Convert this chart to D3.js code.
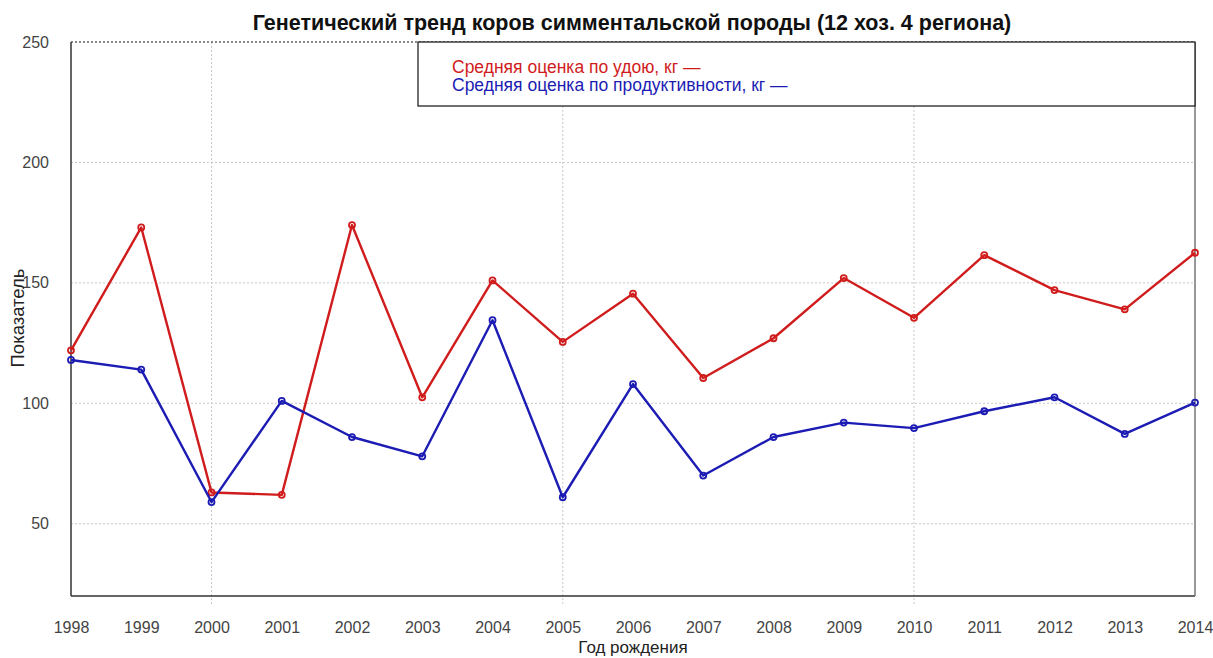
<!DOCTYPE html>
<html><head><meta charset="utf-8">
<script src="https://cdn.jsdelivr.net/npm/d3@7"></script>
<style>body{margin:0;background:#fff;} text{font-family:"Liberation Sans",Arial,sans-serif;}</style>
</head><body><svg id="c" width="1213" height="658"></svg>
<script>
const years = [1998,1999,2000,2001,2002,2003,2004,2005,2006,2007,2008,2009,2010,2011,2012,2013,2014];
const milk = [122,173,63,62,174,102.5,151,125.5,145.5,110.5,127,152,135.5,161.5,147,139,162.5];
const prod = [118,114,59,101,86,78,134.5,61,108,70,86,92,89.7,96.7,102.5,87.3,100.3];
const yTicks = [50,100,150,200,250];
const xGrid = [2000,2005,2010];
const seriesNames = ["Средняя оценка по удою, кг —","Средняя оценка по продуктивности, кг —"];
const colors = ["#d01c1c","#1c1cb4"];

const svg = d3.select("#c");
const L=71,R=1195,T=42,B=596;
const x = d3.scaleLinear().domain([1998,2014]).range([L,R]);
const y = d3.scaleLinear().domain([20,250]).range([B,T]);

// grid
svg.append("g").selectAll("line").data(yTicks).join("line")
 .attr("x1",L).attr("x2",R).attr("y1",d=>y(d)).attr("y2",d=>y(d))
 .attr("stroke","#c8c8c8").attr("stroke-dasharray","2,2");
svg.append("g").selectAll("line").data(xGrid).join("line")
 .attr("x1",d=>x(d)).attr("x2",d=>x(d)).attr("y1",T).attr("y2",B+8)
 .attr("stroke","#c8c8c8").attr("stroke-dasharray","2,2");
// top dotted border
svg.append("line").attr("x1",L).attr("x2",R).attr("y1",T).attr("y2",T).attr("stroke","#333").attr("stroke-dasharray","2,2");
// axes
svg.append("line").attr("x1",L).attr("x2",L).attr("y1",T).attr("y2",B).attr("stroke","#333").attr("stroke-width",1.5);
svg.append("line").attr("x1",L).attr("x2",R).attr("y1",B).attr("y2",B).attr("stroke","#333").attr("stroke-width",1.5);
svg.append("line").attr("x1",R).attr("x2",R).attr("y1",T).attr("y2",B).attr("stroke","#777").attr("stroke-width",1.5);

// tick labels
const yAxis = d3.axisLeft(y).tickValues(yTicks).tickSize(0).tickPadding(0);
const gy = svg.append("g").attr("transform",`translate(${L-22},0)`).call(yAxis);
gy.select(".domain").remove();
gy.selectAll("text").attr("font-size",16).attr("fill","#444").attr("font-family","Liberation Sans, Arial");
const xAxis = d3.axisBottom(x).tickValues(years).tickFormat(d3.format("d")).tickSize(0).tickPadding(0);
const gx = svg.append("g").attr("transform",`translate(0,${B+26})`).call(xAxis);
gx.select(".domain").remove();
gx.selectAll("text").attr("font-size",16).attr("fill","#444").attr("font-family","Liberation Sans, Arial");

// titles
svg.append("text").attr("x",632).attr("y",30).attr("text-anchor","middle").attr("font-size",21.5).attr("font-weight","bold").attr("fill","#111")
 .text("Генетический тренд коров симментальской породы (12 хоз. 4 региона)");
svg.append("text").attr("x",633).attr("y",653).attr("text-anchor","middle").attr("font-size",17).attr("fill","#222").text("Год рождения");
svg.append("text").attr("transform","translate(24,318) rotate(-90)").attr("text-anchor","middle").attr("font-size",18.5).attr("fill","#222").text("Показатель");

// series
const line = d3.line().x((d,i)=>x(years[i])).y(d=>y(d));
[milk,prod].forEach((s,k)=>{
  svg.append("path").datum(s).attr("d",line).attr("fill","none").attr("stroke",colors[k]).attr("stroke-width",2.4).attr("stroke-linejoin","round");
  svg.append("g").selectAll("circle").data(s).join("circle")
   .attr("cx",(d,i)=>x(years[i])).attr("cy",d=>y(d)).attr("r",3)
   .attr("fill","none").attr("stroke",colors[k]).attr("stroke-width",1.8);
});

// legend
svg.append("rect").attr("x",418).attr("y",T).attr("width",R-418).attr("height",64).attr("fill","#fff").attr("stroke","#111").attr("stroke-width",1.2);
seriesNames.forEach((n,k)=>{
  svg.append("text").attr("x",452).attr("y",73+k*18).attr("font-size",17.5).attr("fill",colors[k]).text(n);
});
</script></body></html>
